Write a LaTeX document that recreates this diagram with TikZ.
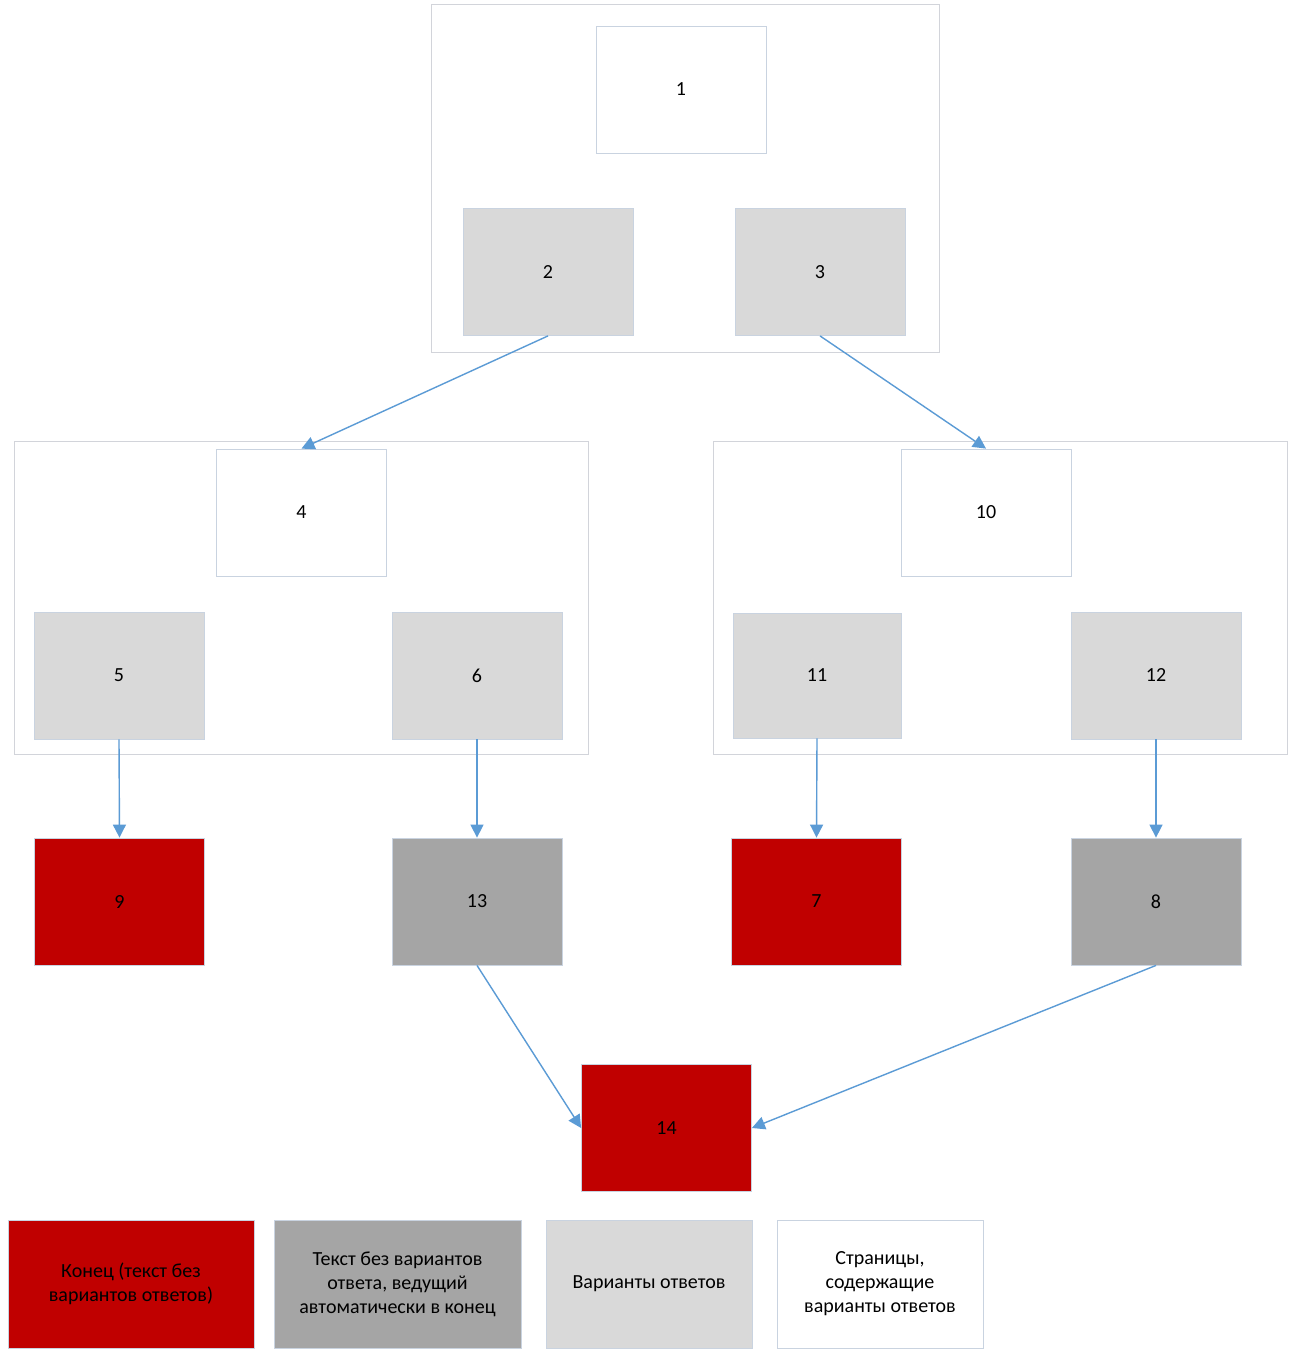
\documentclass[tikz,border=0pt]{standalone}
\usepackage{fontspec}
\setmainfont{Carlito}
\usetikzlibrary{arrows.meta}
\definecolor{endred}{HTML}{C00000}
\definecolor{darkg}{HTML}{A5A5A5}
\definecolor{lightg}{HTML}{D9D9D9}
\definecolor{edgec}{HTML}{C9D3E0}
\definecolor{contc}{HTML}{D2D4DA}
\definecolor{arrc}{HTML}{5B9BD5}
\tikzset{
  base/.style={draw=edgec, line width=0.8pt, minimum width=170pt, minimum height=127pt, inner sep=0pt,
    font=\fontsize{20}{24}\selectfont, align=center, text=black},
  pagebox/.style={base, fill=white},
  optbox/.style={base, fill=lightg},
  autobox/.style={base, fill=darkg},
  endbox/.style={base, fill=endred},
  cont/.style={draw=contc, line width=0.9pt, fill=none, inner sep=0pt},
  arr/.style={draw=arrc, line width=1.4pt, -{Triangle[length=13pt,width=13pt]}, shorten >=0pt}
}
\begin{document}
\begin{tikzpicture}[x=1pt,y=-1pt]
\useasboundingbox[fill=white] (0,0) rectangle (1296,1359);
% containers
\node[cont, minimum width=508pt, minimum height=348pt] (c1) at (685,178) {};
\node[cont, minimum width=574pt, minimum height=313pt] (c2) at (301,597.5) {};
\node[cont, minimum width=574pt, minimum height=313pt] (c3) at (1000,597.5) {};
% top group
\node[pagebox] (n1) at (681,89.5) {1};
\node[optbox] (n2) at (548,272) {2};
\node[optbox] (n3) at (820,272) {3};
% left group
\node[pagebox] (n4) at (301.5,512.5) {4};
\node[optbox] (n5) at (119,675.5) {5};
\node[optbox] (n6) at (477,675.5) {6};
% right group
\node[pagebox] (n10) at (986,512.5) {10};
\node[optbox, minimum width=168pt, minimum height=125pt] (n11) at (817,675.5) {11};
\node[optbox] (n12) at (1156,675.5) {12};
% row of results
\node[endbox] (n9) at (119.5,901.5) {9};
\node[autobox] (n13) at (477,901.5) {13};
\node[endbox] (n7) at (816.5,901.5) {7};
\node[autobox] (n8) at (1156,901.5) {8};
\node[endbox] (n14) at (666.5,1128) {14};
% arrows
\draw[arr] (n2.south) -- (n4.north);
\draw[arr] (n3.south) -- (n10.north);
\draw[arr] (n5.south) -- (n9.north);
\draw[arr] (n6.south) -- (n13.north);
\draw[arr] (n11.south) -- (n7.north);
\draw[arr] (n12.south) -- (n8.north);
\draw[arr] (n13.south) -- (n14.west);
\draw[arr] (n8.south) -- (n14.east);
% legend
\node[endbox, minimum width=246pt, minimum height=128pt] (l1) at (131,1284) {Конец (текст без\\вариантов ответов)};
\node[autobox, minimum width=247pt, minimum height=128pt] (l2) at (397.5,1284) {Текст без вариантов\\ответа, ведущий\\автоматически в конец};
\node[optbox, minimum width=206pt, minimum height=128pt] (l3) at (649,1284) {Варианты ответов};
\node[pagebox, minimum width=206pt, minimum height=128pt] (l4) at (880,1284) {Страницы,\\содержащие\\варианты ответов};
\end{tikzpicture}
\end{document}
